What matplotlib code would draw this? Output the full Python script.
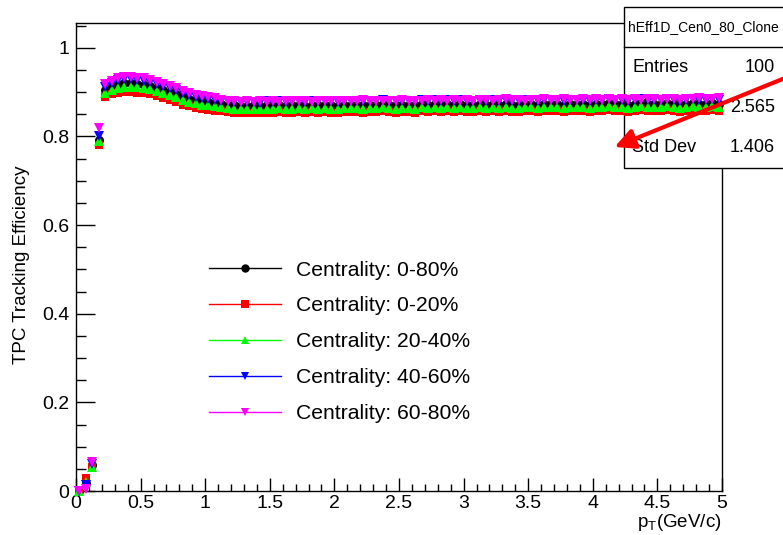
import numpy as np
import matplotlib.pyplot as plt
from matplotlib.patches import Rectangle, FancyArrowPatch
from matplotlib.ticker import MultipleLocator

plt.rcParams['font.family'] = ['Liberation Sans', 'DejaVu Sans']
plt.rcParams['mathtext.default'] = 'regular'

# bin centres: 100 bins of 0.05 GeV/c from 0 to 5
pt = np.arange(100) * 0.05 + 0.025

# 0-80%
eff_0_80 = [0.000, 0.018, 0.058, 0.792, 0.905, 0.913, 0.918, 0.920, 0.920, 0.918,
            0.916, 0.914, 0.910, 0.905, 0.900, 0.895, 0.890, 0.885, 0.882, 0.879,
            0.877, 0.875, 0.873, 0.871, 0.870, 0.869, 0.869, 0.870, 0.868, 0.870,
            0.869, 0.871, 0.869, 0.870, 0.871, 0.869, 0.871, 0.870, 0.872, 0.870,
            0.869, 0.872, 0.871, 0.872, 0.870, 0.872, 0.871, 0.873, 0.871, 0.870,
            0.872, 0.871, 0.870, 0.873, 0.872, 0.873, 0.871, 0.873, 0.872, 0.873,
            0.871, 0.872, 0.874, 0.872, 0.873, 0.871, 0.873, 0.872, 0.872, 0.874,
            0.873, 0.872, 0.874, 0.873, 0.874, 0.872, 0.874, 0.873, 0.874, 0.872,
            0.874, 0.873, 0.875, 0.873, 0.874, 0.872, 0.874, 0.875, 0.873, 0.874,
            0.873, 0.875, 0.874, 0.872, 0.874, 0.875, 0.873, 0.874, 0.875, 0.874]
# 0-20%
eff_0_20 = [0.000, 0.030, 0.055, 0.780, 0.888, 0.895, 0.899, 0.901, 0.901, 0.899,
            0.898, 0.896, 0.892, 0.887, 0.882, 0.877, 0.872, 0.868, 0.865, 0.862,
            0.860, 0.858, 0.857, 0.855, 0.854, 0.853, 0.852, 0.853, 0.852, 0.854,
            0.853, 0.855, 0.852, 0.854, 0.855, 0.853, 0.855, 0.854, 0.856, 0.854,
            0.853, 0.856, 0.855, 0.856, 0.854, 0.856, 0.855, 0.857, 0.855, 0.854,
            0.856, 0.855, 0.854, 0.857, 0.856, 0.857, 0.855, 0.857, 0.856, 0.857,
            0.855, 0.856, 0.858, 0.856, 0.857, 0.855, 0.857, 0.856, 0.856, 0.858,
            0.857, 0.856, 0.858, 0.857, 0.858, 0.856, 0.858, 0.857, 0.858, 0.856,
            0.858, 0.857, 0.859, 0.857, 0.858, 0.856, 0.858, 0.859, 0.857, 0.858,
            0.857, 0.859, 0.858, 0.856, 0.858, 0.859, 0.857, 0.858, 0.859, 0.858]
# 20-40%
eff_20_40 = [0.000, 0.020, 0.055, 0.790, 0.898, 0.905, 0.910, 0.912, 0.912, 0.911,
             0.909, 0.907, 0.903, 0.898, 0.893, 0.888, 0.883, 0.878, 0.875, 0.872,
             0.870, 0.868, 0.866, 0.864, 0.863, 0.862, 0.862, 0.863, 0.861, 0.863,
             0.862, 0.864, 0.862, 0.863, 0.864, 0.862, 0.864, 0.863, 0.865, 0.863,
             0.862, 0.865, 0.864, 0.865, 0.863, 0.865, 0.864, 0.866, 0.864, 0.863,
             0.865, 0.864, 0.863, 0.866, 0.865, 0.866, 0.864, 0.866, 0.865, 0.866,
             0.864, 0.865, 0.867, 0.865, 0.866, 0.864, 0.866, 0.865, 0.865, 0.867,
             0.866, 0.865, 0.867, 0.866, 0.867, 0.865, 0.867, 0.866, 0.867, 0.865,
             0.867, 0.866, 0.868, 0.866, 0.867, 0.865, 0.867, 0.868, 0.866, 0.867,
             0.866, 0.868, 0.867, 0.865, 0.867, 0.868, 0.866, 0.867, 0.868, 0.867]
# 40-60%
eff_40_60 = [0.000, 0.014, 0.060, 0.800, 0.912, 0.921, 0.927, 0.930, 0.930, 0.928,
             0.926, 0.923, 0.919, 0.914, 0.909, 0.904, 0.899, 0.894, 0.890, 0.887,
             0.885, 0.883, 0.881, 0.879, 0.878, 0.877, 0.877, 0.878, 0.876, 0.879,
             0.878, 0.880, 0.877, 0.879, 0.880, 0.878, 0.880, 0.879, 0.881, 0.879,
             0.878, 0.881, 0.880, 0.881, 0.879, 0.881, 0.880, 0.882, 0.880, 0.879,
             0.881, 0.880, 0.879, 0.882, 0.881, 0.882, 0.880, 0.882, 0.881, 0.882,
             0.880, 0.881, 0.883, 0.881, 0.882, 0.880, 0.882, 0.881, 0.881, 0.883,
             0.882, 0.881, 0.883, 0.882, 0.883, 0.881, 0.883, 0.882, 0.883, 0.881,
             0.883, 0.882, 0.884, 0.882, 0.883, 0.881, 0.883, 0.884, 0.882, 0.883,
             0.882, 0.884, 0.883, 0.881, 0.883, 0.884, 0.882, 0.883, 0.884, 0.883]
# 60-80%
eff_60_80 = [0.000, 0.005, 0.065, 0.820, 0.918, 0.926, 0.931, 0.934, 0.935, 0.933,
             0.931, 0.928, 0.924, 0.919, 0.914, 0.909, 0.903, 0.898, 0.894, 0.891,
             0.888, 0.886, 0.883, 0.881, 0.879, 0.878, 0.879, 0.877, 0.879, 0.878,
             0.880, 0.878, 0.879, 0.881, 0.879, 0.880, 0.878, 0.880, 0.879, 0.881,
             0.880, 0.879, 0.881, 0.880, 0.882, 0.880, 0.881, 0.879, 0.881, 0.880,
             0.882, 0.881, 0.880, 0.881, 0.882, 0.880, 0.882, 0.881, 0.883, 0.881,
             0.882, 0.880, 0.882, 0.883, 0.881, 0.882, 0.884, 0.882, 0.883, 0.881,
             0.883, 0.882, 0.884, 0.883, 0.882, 0.884, 0.882, 0.883, 0.885, 0.883,
             0.884, 0.882, 0.884, 0.883, 0.885, 0.883, 0.884, 0.882, 0.884, 0.885,
             0.883, 0.885, 0.884, 0.883, 0.885, 0.884, 0.886, 0.884, 0.885, 0.886]

labels = ['Centrality: 0-80%', 'Centrality: 0-20%', 'Centrality: 20-40%',
          'Centrality: 40-60%', 'Centrality: 60-80%']
series = [eff_0_80, eff_0_20, eff_20_40, eff_40_60, eff_60_80]
colors = ['black', '#ff0000', '#00ff00', '#0000ff', '#ff00ff']
markers = ['o', 's', '^', 'v', 'v']
msizes = [6.5, 6, 7.5, 7.5, 7.5]
leg_msizes = [6, 5.5, 6, 6, 6]

stat_name = 'hEff1D_Cen0_80_Clone'
stat_rows = [('Entries', '100'), ('Mean', '2.565'), ('Std Dev', '1.406')]

fig = plt.figure(figsize=(7.83, 5.35), dpi=100)
ax = fig.add_axes([76 / 783, 44 / 535, 646 / 783, 468 / 535])

for y, c, mk, ms, lms, lab in zip(series, colors, markers, msizes, leg_msizes, labels):
    ax.plot(pt, y, linestyle='none', marker=mk, color=c, markersize=ms,
            markeredgewidth=0, clip_on=False, zorder=3)
    # legend entry: line through the marker
    ax.plot([], [], color=c, lw=1, marker=mk, markersize=lms,
            markeredgewidth=0, label=lab)

ax.set_xlim(0, 5)
ax.set_ylim(0, 1.056)
ax.xaxis.set_major_locator(MultipleLocator(0.5))
ax.xaxis.set_minor_locator(MultipleLocator(0.1))
ax.yaxis.set_major_locator(MultipleLocator(0.2))
ax.yaxis.set_minor_locator(MultipleLocator(0.05))
ax.xaxis.set_major_formatter(plt.FuncFormatter(lambda v, p: f'{v:g}'))
ax.yaxis.set_major_formatter(plt.FuncFormatter(lambda v, p: f'{v:g}'))
ax.tick_params(axis='both', which='both', direction='in', top=False, right=False,
               labelsize=14, width=1)
ax.tick_params(axis='x', which='major', length=9.5, pad=3)
ax.tick_params(axis='x', which='minor', length=5)
ax.tick_params(axis='y', which='major', length=13.5, pad=5)
ax.tick_params(axis='y', which='minor', length=7)
for s in ax.spines.values():
    s.set_linewidth(1)
    s.set_zorder(1)

ax.set_ylabel('TPC Tracking Efficiency', fontsize=13.5)
ax.yaxis.set_label_coords(-0.071, 0.483)
ax.set_xlabel(r'$p_{T}$(GeV/c)', fontsize=13.5, loc='right', labelpad=0)

ax.legend(loc='upper left', bbox_to_anchor=(0.190, 0.515), frameon=False,
          fontsize=15.2, handlelength=3.4, handletextpad=0.7,
          labelspacing=0.8, borderpad=0)

# stats box (drawn under the markers, over the frame)
box = Rectangle((624, 535 - 168), 200, 161, transform=None, facecolor='white',
                edgecolor='black', lw=1, zorder=2, clip_on=False)
ax.add_artist(box)
ax.plot([624 / 783, 1.1], [(535 - 47) / 535] * 2, transform=fig.transFigure,
        color='black', lw=1, zorder=2.1, clip_on=False)
ax.text(628 / 783, (535 - 27) / 535, stat_name, transform=fig.transFigure,
        fontsize=10, va='center', ha='left', zorder=2.2)
for i, (nm, val) in enumerate(stat_rows):
    yy = (535 - (68 + 40 * i)) / 535
    ax.text(632 / 783, yy, nm, transform=fig.transFigure, fontsize=13,
            va='center', ha='left', zorder=2.2)
    ax.text(775 / 783, yy, val, transform=fig.transFigure, fontsize=13,
            va='center', ha='right', zorder=2.2)

arrow = FancyArrowPatch((795 / 783, (535 - 74) / 535), (612 / 783, (535 - 148) / 535),
                        transform=fig.transFigure,
                        arrowstyle='-|>,head_length=12,head_width=6',
                        color='#ff0000', lw=3, zorder=10)
fig.patches.append(arrow)

fig.savefig('out.png', dpi=100)
